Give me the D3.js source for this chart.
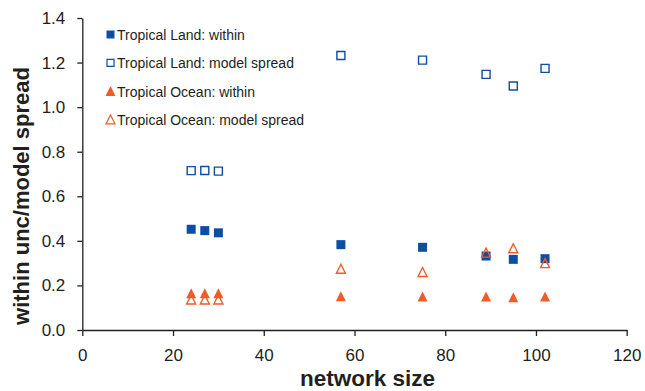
<!DOCTYPE html>
<html><head><meta charset="utf-8">
<script src="https://cdn.jsdelivr.net/npm/d3@7"></script>
<style>body{margin:0;background:#fff}svg{display:block}</style>
</head><body>
<svg id="c" width="645" height="391"></svg>
<script>
const networkSize = [24, 27, 30, 57, 75, 89, 95, 102];
const landWithin = [0.452, 0.446, 0.436, 0.383, 0.371, 0.332, 0.317, 0.320];
const landSpread = [0.715, 0.716, 0.713, 1.232, 1.211, 1.147, 1.095, 1.174];
const oceanWithin = [0.165, 0.165, 0.165, 0.152, 0.150, 0.150, 0.147, 0.150];
const oceanSpread = [0.137, 0.137, 0.137, 0.275, 0.260, 0.347, 0.367, 0.300];
const xTicks = [0, 20, 40, 60, 80, 100, 120];
const yTicks = [0, 0.2, 0.4, 0.6, 0.8, 1.0, 1.2, 1.4];
const seriesNames = ["Tropical Land: within", "Tropical Land: model spread", "Tropical Ocean: within", "Tropical Ocean: model spread"];

const blue = "#0b4ea2", orange = "#f15a29";
const svg = d3.select("#c");
const x = d3.scaleLinear().domain([0, 120]).range([82.3, 626.7]);
const y = d3.scaleLinear().domain([0, 1.4]).range([330, 18]);
const font = "'Liberation Sans', Arial, sans-serif";

const xa = svg.append("g").attr("transform", "translate(0,330)")
  .call(d3.axisBottom(x).tickValues(xTicks).tickFormat(d3.format("d")).tickSizeInner(6).tickSizeOuter(0).tickPadding(13));
const ya = svg.append("g").attr("transform", "translate(82.3,0)")
  .call(d3.axisLeft(y).tickValues(yTicks).tickFormat(d3.format(".1f")).tickSizeInner(5).tickSizeOuter(0).tickPadding(12));
[xa, ya].forEach(a => {
  a.selectAll("path,line").attr("stroke", "#231f20").attr("stroke-width", 1.3);
  a.selectAll("text").attr("font-family", font).attr("font-size", 17).attr("fill", "#231f20");
});

// isosceles triangle symbol: width w, height h, centred on its bounding box
const triShape = (w, h) => ({ draw(ctx) {
  ctx.moveTo(0, -h / 2); ctx.lineTo(w / 2, h / 2); ctx.lineTo(-w / 2, h / 2); ctx.closePath();
}});
const sqShape = (s) => ({ draw(ctx) { ctx.rect(-s / 2, -s / 2, s, s); }});

const series = [
  {vals: landWithin, sym: sqShape(9), leg: sqShape(8), fill: blue, stroke: "none"},
  {vals: landSpread, sym: sqShape(8), leg: sqShape(7), fill: "#fff", stroke: blue},
  {vals: oceanWithin, sym: triShape(10, 10), leg: triShape(10, 10), fill: orange, stroke: "none"},
  {vals: oceanSpread, sym: triShape(9, 9), leg: triShape(9, 9), fill: "none", stroke: orange}
];
const plotOrder = [1, 0, 3, 2];
plotOrder.forEach(i => {
  const s = series[i];
  svg.append("g").selectAll("path").data(networkSize).join("path")
    .attr("d", d3.symbol().type(s.sym)())
    .attr("transform", (d, j) => `translate(${x(d)},${y(s.vals[j])})`)
    .attr("fill", s.fill).attr("stroke", s.stroke).attr("stroke-width", 1.4);
});

// legend
const leg = svg.append("g");
seriesNames.forEach((n, i) => {
  const yy = 34.5 + i * 28.3;
  const s = series[i];
  leg.append("path").attr("d", d3.symbol().type(s.leg)()).attr("transform", `translate(110.5,${yy})`)
    .attr("fill", s.fill).attr("stroke", s.stroke).attr("stroke-width", 1.2);
  leg.append("text").attr("x", 117).attr("y", yy + 5.5).text(n)
    .attr("font-family", font).attr("font-size", 14).attr("fill", "#231f20");
});

svg.append("text").attr("x", 367.5).attr("y", 385.5).attr("text-anchor", "middle")
  .attr("font-family", font).attr("font-weight", "bold").attr("font-size", 22.5).attr("fill", "#231f20")
  .text("network size");
svg.append("text").attr("transform", "translate(29,196) rotate(-90)").attr("text-anchor", "middle")
  .attr("font-family", font).attr("font-weight", "bold").attr("font-size", 22).attr("fill", "#231f20")
  .text("within unc/model spread");
</script>
</body></html>
